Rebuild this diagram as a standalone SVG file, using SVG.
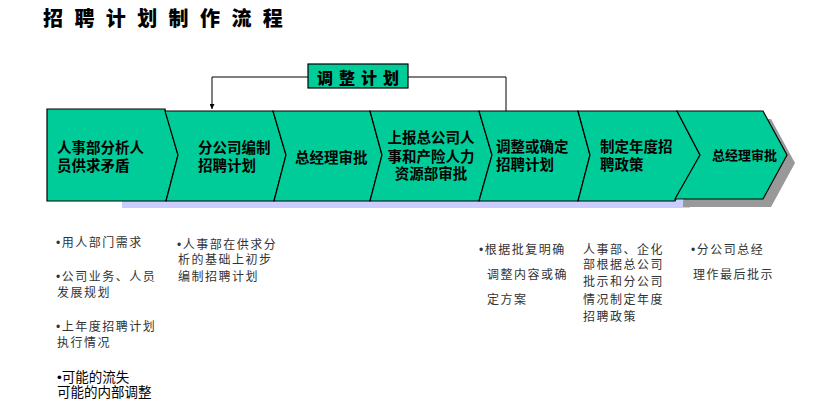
<svg xmlns="http://www.w3.org/2000/svg" width="817" height="415" viewBox="0 0 817 415">
<defs>
<style>
.node{fill:#00CC99;stroke:#000;stroke-width:1.2;stroke-linejoin:miter}
.nt{font-family:"Liberation Sans","Noto Sans CJK SC",sans-serif;font-size:14.5px;font-weight:700;fill:#000}
.note{font-family:"Liberation Sans","Noto Sans CJK SC",sans-serif;font-size:12px;fill:#333;letter-spacing:1.5px}
.note2{font-family:"Liberation Sans","Noto Sans CJK SC",sans-serif;font-size:13.5px;fill:#000}
.conn{fill:none;stroke:#000;stroke-width:1}
</style>
<marker id="arr" viewBox="0 0 10 10" refX="10" refY="5" markerWidth="5" markerHeight="5" orient="auto">
<path d="M0,0 L10,5 L0,10 Z" fill="#000"/>
</marker>
</defs>
<rect width="817" height="415" fill="#fff"/>
<text x="43" y="26" font-family="'Noto Sans CJK SC',sans-serif" font-size="20" font-weight="900" letter-spacing="11.4" fill="#000">招聘计划制作流程</text>

<rect x="122" y="200" width="568" height="8" fill="#CCCCFF"/>
<path d="M685,119 L771,119 L795,163 L771,207 L683,207 Z" fill="#999"/>

<g id="connectors">
<path class="conn" d="M308,77 H212 V109" marker-end="url(#arr)"/>
<path class="conn" d="M408,77 H506 V111"/>
</g>

<g id="n1"><path class="node" d="M47,109 L165,109 L178,155 L166,201 L47,201 Z"/>
<text class="nt" x="57" y="152.5">人事部分析人</text><text class="nt" x="57" y="171">员供求矛盾</text></g>
<g id="n2"><path class="node" d="M165,111 L273,111 L286,155 L274,201 L166,201 L178,155 Z"/>
<text class="nt" x="198" y="152.5">分公司编制</text><text class="nt" x="198" y="171">招聘计划</text></g>
<g id="n3"><path class="node" d="M273,111 L370,111 L382,155 L370,201 L274,201 L286,155 Z"/>
<text class="nt" x="295" y="162.5">总经理审批</text></g>
<g id="n4"><path class="node" d="M370,111 L479,111 L492,155 L479,201 L370,201 L382,155 Z"/>
<text class="nt" x="431" y="143" text-anchor="middle">上报总公司人</text><text class="nt" x="431" y="162" text-anchor="middle">事和产险人力</text><text class="nt" x="431" y="179" text-anchor="middle">资源部审批</text></g>
<g id="n5"><path class="node" d="M479,111 L578,111 L590,155 L578,201 L479,201 L492,155 Z"/>
<text class="nt" x="496" y="152">调整或确定</text><text class="nt" x="496" y="170">招聘计划</text></g>
<g id="n6"><path class="node" d="M578,111 L677,111 L700,155 L675,201 L578,201 L590,155 Z"/>
<text class="nt" x="600" y="152">制定年度招</text><text class="nt" x="600" y="170">聘政策</text></g>
<g id="n7"><path class="node" d="M677,111 L763,111 L787,155 L763,199 L675,199 L700,155 Z"/>
<text class="nt" x="712" y="160" style="font-size:13px">总经理审批</text></g>

<g id="n8"><rect class="node" x="308" y="64" width="100" height="24" stroke-width="1.5"/>
<text x="317" y="84" font-family="'Noto Sans CJK SC',sans-serif" font-size="16" font-weight="900" letter-spacing="6" fill="#000">调整计划</text></g>

<g id="notes">
<text class="note" x="56" y="247">•用人部门需求</text>
<text class="note" x="56" y="281">•公司业务、人员</text>
<text class="note" x="57" y="297">发展规划</text>
<text class="note" x="56" y="331">•上年度招聘计划</text>
<text class="note" x="57" y="347">执行情况</text>
<text class="note2" x="57" y="382">•可能的流失</text>
<text class="note2" x="57" y="397">可能的内部调整</text>
<text class="note" x="177" y="249">•人事部在供求分</text>
<text class="note" x="178" y="264">析的基础上初步</text>
<text class="note" x="178" y="281">编制招聘计划</text>
<text class="note" x="479" y="254">•根据批复明确</text>
<text class="note" x="487" y="279">调整内容或确</text>
<text class="note" x="487" y="304">定方案</text>
<text class="note" x="583" y="254">人事部、企化</text>
<text class="note" x="583" y="269">部根据总公司</text>
<text class="note" x="583" y="286">批示和分公司</text>
<text class="note" x="583" y="304">情况制定年度</text>
<text class="note" x="583" y="321">招聘政策</text>
<text class="note" x="691" y="254">•分公司总经</text>
<text class="note" x="693" y="279">理作最后批示</text>
</g>
</svg>
